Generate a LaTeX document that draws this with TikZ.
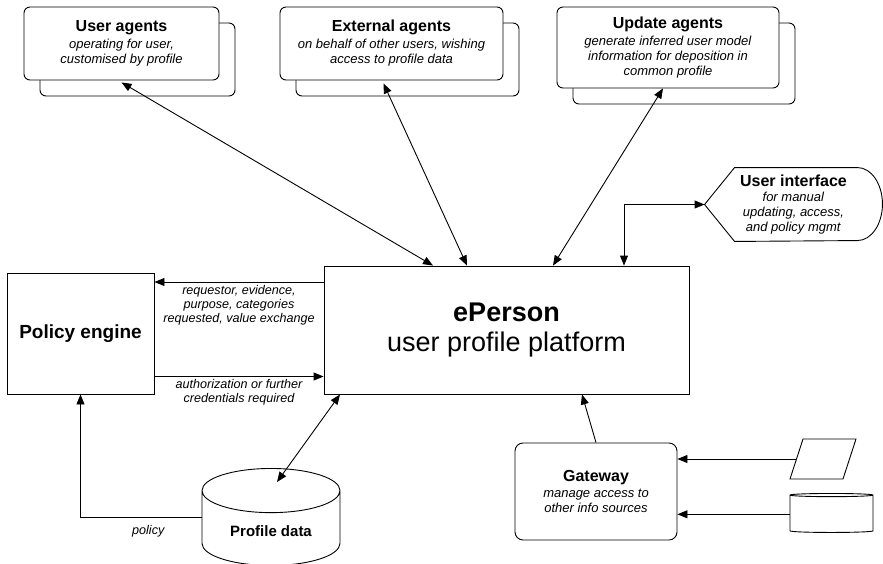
\documentclass[tikz,border=0pt]{standalone}
\usepackage{fontspec}
\setmainfont{Liberation Sans}
\usepackage{tikz}
\usetikzlibrary{shapes.geometric, arrows.meta, positioning, shadows}

\begin{document}
\begin{tikzpicture}[
    x=1pt, y=-1pt,
    line width=0.9pt,
    font=\fontsize{13}{15}\selectfont,
    agent/.style={rectangle, draw, fill=white, rounded corners=6pt, align=center,
        copy shadow={shadow xshift=16pt, shadow yshift=-16pt, draw, fill=white}},
    block/.style={rectangle, draw, align=center},
    db/.style={cylinder, shape border rotate=90, draw, fill=white, align=center},
    lbl/.style={font=\fontsize{12.6}{14}\selectfont\itshape, align=center},
    arrow/.style={-{Triangle[length=10pt, width=8pt]}},
    twoway/.style={{Triangle[length=10pt, width=8pt]}-{Triangle[length=10pt, width=8pt]}}
]
    \useasboundingbox (0,0) rectangle (883,563);

    % agents along the top
    \node [agent, minimum width=195pt, minimum height=73pt] (users) at (121.5,43.5)
        {{\fontsize{16}{18}\selectfont\bfseries User agents}\\[2pt]
         \textit{operating for user,}\\ \textit{customised by profile}};
    \node [agent, minimum width=223pt, minimum height=73pt] (external) at (391.5,43.5)
        {{\fontsize{16}{18}\selectfont\bfseries External agents}\\[2pt]
         \textit{on behalf of other users, wishing}\\ \textit{access to profile data}};
    \node [agent, minimum width=222pt, minimum height=81pt] (update) at (668,47.5)
        {{\fontsize{16}{18}\selectfont\bfseries Update agents}\\[2pt]
         \textit{generate inferred user model}\\ \textit{information for deposition in}\\ \textit{common profile}};

    % central platform
    \node [block, minimum width=365pt, minimum height=128pt, font=\fontsize{27}{30}\selectfont] (eperson) at (506.5,330)
        {\textbf{ePerson}\\user profile platform};
    \node [block, minimum width=147pt, minimum height=121pt, font=\fontsize{19}{22}\selectfont\bfseries] (policy) at (80.5,333.5)
        {Policy engine};

    % user interface (display shape)
    \node [align=center, minimum width=177pt, minimum height=73pt] (ui) at (793.5,204.5)
        {{\fontsize{16}{18}\selectfont\bfseries User interface}\\
         \textit{for manual}\\ \textit{updating, access,}\\ \textit{and policy mgmt}};
    \draw (ui.west) -- ([xshift=30pt]ui.north west) -- ([xshift=-25pt]ui.north east)
        arc [start angle=90, end angle=-90, x radius=25pt, y radius=36.5pt]
        -- ([xshift=30pt]ui.south west) -- cycle;

    % data stores and gateway
    \node [db, aspect=0.5, minimum width=138pt, minimum height=97pt, anchor=north,
        font=\fontsize{15}{18}\selectfont\bfseries] (profile) at (271,468)
        {Profile data};
    \node [block, rounded corners=8pt, minimum width=162pt, minimum height=97pt] (gateway) at (596,491.5)
        {{\fontsize{16}{18}\selectfont\bfseries Gateway}\\[1pt]
         \textit{manage access to}\\ \textit{other info sources}};
    \node [trapezium, trapezium left angle=72, trapezium right angle=108, trapezium stretches,
        draw, minimum width=66pt, minimum height=40pt] (form) at (823,459) {};
    \node [db, aspect=0.48, minimum width=83pt, minimum height=39pt, anchor=north] (store) at (831.5,493) {};

    % connectors
    \coordinate (inusers) at ([xshift=-73.5pt]eperson.north);
    \coordinate (inexternal) at ([xshift=-39.5pt]eperson.north);
    \coordinate (inupdate) at ([xshift=46.5pt]eperson.north);
    \coordinate (inui) at ([xshift=117.5pt]eperson.north);
    \coordinate (ask) at ([yshift=48pt]eperson.west);
    \coordinate (reply) at ([yshift=-43pt]policy.east);
    \coordinate (inprofile) at ([xshift=-166.5pt]eperson.south);
    \coordinate (ingateway) at ([xshift=75.5pt]eperson.south);
    \coordinate (outprofile) at ([yshift=14pt]profile.west);

    \draw [twoway] ([yshift=-2pt]users.south) -- (inusers);
    \draw [twoway] ([xshift=-8pt, yshift=-3pt]external.south) -- (inexternal);
    \draw [twoway] ([xshift=-5pt]update.south) -- (inupdate);
    \draw [twoway] (ui.west) -| (inui);
    \draw [arrow] (ask) -- (ask -| policy.east)
        node [lbl, midway, below] {requestor, evidence,\\purpose, categories\\requested, value exchange};
    \draw [arrow] (reply) -- (reply -| eperson.west)
        node [lbl, midway, below, yshift=1pt] {authorization or further\\credentials required};
    \draw [twoway] ([shift={(6pt,-14pt)}]profile.north) -- (inprofile);
    \draw [arrow] (outprofile) -| (policy.south)
        node [lbl, pos=0.22, below, yshift=-4pt] {policy};
    \draw [arrow] (gateway.north) -- (ingateway);
    \draw [arrow] (form) -- (form -| gateway.east);
    \draw [arrow] (store) -- (store -| gateway.east);
\end{tikzpicture}
\end{document}
